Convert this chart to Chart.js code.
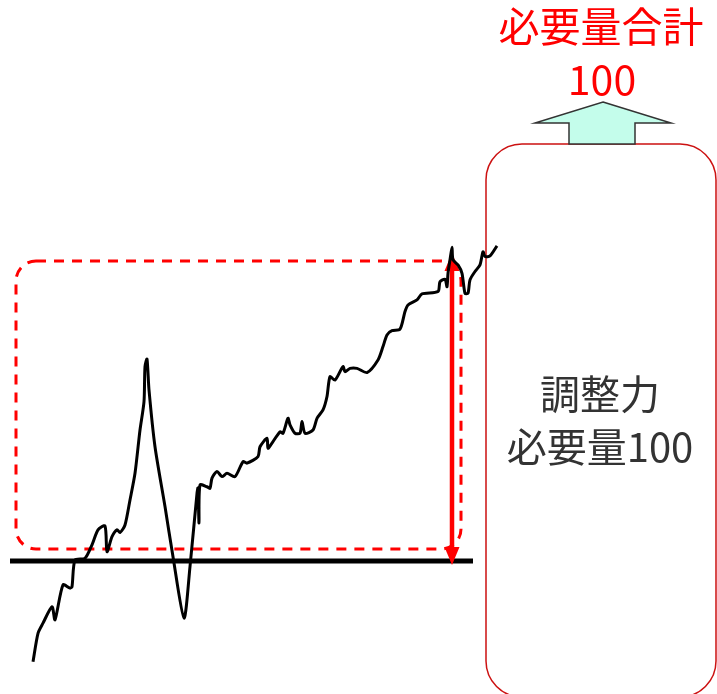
<!DOCTYPE html>
<html>
<head>
<meta charset="utf-8">
<script src="https://cdn.jsdelivr.net/npm/chart.js@4"></script>
<style>
  html, body { margin: 0; padding: 0; background: #fff; }
  canvas { display: block; }
</style>
</head>
<body>
<canvas id="myChart" width="717" height="694"></canvas>
<script>
// time steps (arbitrary units) and demand level (100 = required adjustment)
const times = [0, 5, 10, 19, 22, 30, 37, 39, 42, 52, 59, 65, 72, 74, 79, 84, 87, 92, 97, 102,
    107, 111, 112, 114, 116, 122, 132, 140, 151, 157, 164, 165, 166, 167, 174, 177, 179, 184, 189, 194,
    202, 210, 214, 225, 227, 234, 235, 239, 247, 250, 255, 257, 262, 267, 269, 272, 280, 284, 290, 294,
    297, 302, 310, 312, 317, 324, 334, 345, 350, 354, 359, 367, 372, 375, 384, 389, 405, 407, 412, 414,
    415, 417, 419, 420, 425, 429, 432, 435, 437, 442, 447, 450, 452, 457, 464];
const demand = [-33.7, -24.2, -20.8, -15.3, -19.7, -8.0, -9.1, -8.6, 0.3, 0.9, 5.4, 10.4, 11.7, 3.1, 8.1, 10.4, 9.5, 12.0, 20.4, 29.3,
    43.8, 53.3, 65.0, 67.5, 57.2, 38.2, 18.2, 1.4, -19.1, -1.9, 22.6, 24.4, 12.7, 25.4, 24.8, 24.3, 27.7, 29.9, 28.2, 29.3,
    28.2, 33.2, 32.7, 34.9, 38.2, 41.0, 37.7, 39.4, 43.2, 42.7, 47.7, 45.5, 42.7, 42.7, 46.6, 42.7, 43.8, 47.7, 50.5, 55.0,
    61.6, 60.5, 65.0, 63.3, 64.4, 64.4, 63.0, 67.2, 71.7, 75.6, 77.0, 77.5, 83.4, 85.6, 87.3, 89.3, 90.1, 93.4, 94.2, 91.7,
    96.2, 100.7, 104.9, 100.7, 99.0, 96.2, 89.5, 89.5, 94.0, 96.8, 99.0, 103.4, 101.8, 102.0, 105.4];

const baseLevel = 0;
const needLevel = 100;
const needTime = 419;
const baseRange = [-23, 440];        // span of the thick base line
const boxTimes = [-17, 428];         // dashed box left/right
const boxLevels = [4, 100.3];        // dashed box bottom/top
const totalLabel = ['必要量合計', '100'];
const boxLabel = ['調整力', '必要量100'];

const points = times.map((t, i) => ({ x: t, y: demand[i] }));

const drawHead = (ctx, px, tipY, dir) => {
    ctx.beginPath();
    ctx.moveTo(px, tipY);
    ctx.lineTo(px - 7.5, tipY + dir * 18);
    ctx.lineTo(px + 7.5, tipY + dir * 18);
    ctx.closePath();
    ctx.fill();
};

const overlay = {
    id: 'overlay',
    beforeDatasetsDraw(chart) {
        const { ctx, scales: { x, y } } = chart;
        ctx.save();

        // dashed box around the variation
        ctx.strokeStyle = '#ff0000';
        ctx.lineWidth = 3;
        ctx.setLineDash([10, 8]);
        const bx = x.getPixelForValue(boxTimes[0]);
        const by = y.getPixelForValue(boxLevels[1]);
        ctx.beginPath();
        ctx.roundRect(bx, by, x.getPixelForValue(boxTimes[1]) - bx, y.getPixelForValue(boxLevels[0]) - by, 20);
        ctx.stroke();
        ctx.setLineDash([]);

        // thick base line
        const y0 = y.getPixelForValue(baseLevel);
        ctx.strokeStyle = '#000';
        ctx.lineWidth = 5;
        ctx.beginPath();
        ctx.moveTo(x.getPixelForValue(baseRange[0]), y0);
        ctx.lineTo(x.getPixelForValue(baseRange[1]), y0);
        ctx.stroke();

        // red double arrow = required amount
        const ax = x.getPixelForValue(needTime);
        const yTop = y.getPixelForValue(needLevel) - 9;
        const yBot = y0 + 4;
        ctx.strokeStyle = '#ff0000';
        ctx.fillStyle = '#ff0000';
        ctx.lineWidth = 4.5;
        ctx.beginPath();
        ctx.moveTo(ax, yTop + 14);
        ctx.lineTo(ax, yBot - 14);
        ctx.stroke();
        drawHead(ctx, ax, yTop, 1);
        drawHead(ctx, ax, yBot, -1);

        // right box
        ctx.strokeStyle = '#cc1111';
        ctx.lineWidth = 1.5;
        ctx.beginPath();
        ctx.roundRect(486, 144, 230, 553, 36);
        ctx.stroke();

        // up arrow
        ctx.fillStyle = '#c4fdeb';
        ctx.strokeStyle = '#333';
        ctx.lineWidth = 1.5;
        ctx.beginPath();
        ctx.moveTo(603, 102);
        ctx.lineTo(671, 123);
        ctx.lineTo(635, 123);
        ctx.lineTo(635, 144);
        ctx.lineTo(569, 144);
        ctx.lineTo(569, 123);
        ctx.lineTo(535, 123);
        ctx.closePath();
        ctx.fill();
        ctx.stroke();

        // texts
        ctx.textAlign = 'center';
        ctx.textBaseline = 'alphabetic';
        ctx.font = '41px "Noto Sans CJK JP"';
        ctx.fillStyle = '#ff0000';
        ctx.fillText(totalLabel[0], 601, 42);
        ctx.fillText(totalLabel[1], 602, 95);
        ctx.font = '40px "Noto Sans CJK JP"';
        ctx.fillStyle = '#333';
        ctx.fillText(boxLabel[0], 600, 409);
        ctx.fillText(boxLabel[1], 600, 462);

        ctx.restore();
    }
};

const ctx = document.querySelector('#myChart');
new Chart(ctx, {
    type: 'line',
    data: {
        datasets: [
            {
                data: points,
                borderColor: '#000',
                borderWidth: 3,
                pointRadius: 0,
                tension: 0.25,
                fill: false,
            },
        ],
    },
    options: {
        responsive: false,
        animation: false,
        layout: { padding: 0 },
        scales: {
            x: { type: 'linear', display: false, min: -33, max: 684 },
            y: { display: false, min: -44.5, max: 187.6 },
        },
        plugins: {
            legend: { display: false },
            tooltip: { enabled: false },
        },
    },
    plugins: [overlay],
});
</script>
</body>
</html>
